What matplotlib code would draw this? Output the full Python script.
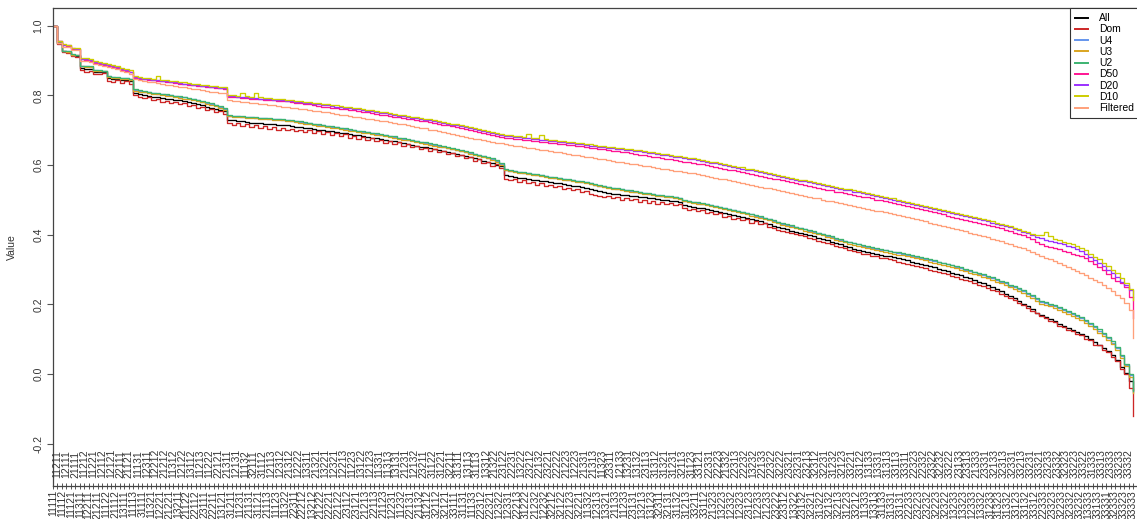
import matplotlib
matplotlib.use("Agg")
import matplotlib.pyplot as plt
import numpy as np

plt.rcParams['font.family'] = ['Liberation Sans', 'DejaVu Sans']

# Profiles ordered by decreasing score
categories = [
    "11111",
    "11211", "11112", "12111", "11121", "21111",
    "11311", "11212", "12211", "11221", "21211", "12112", "11122", "12121", "21112", "22111",
    "13111", "21121", "11113", "11131", "31111",
    "12311", "11321", "12212", "12221", "21212", "21221", "11312", "13211", "12122", "21122",
    "13112", "22112", "11213", "23111", "11222", "22211", "22121", "13121", "21311", "31211",
    "12131", "11231", "11132", "21131", "32111", "31121", "31112", "21113", "12113", "11123",
    "12312", "11322", "21312", "22311", "12222", "22212", "13311", "13212", "21321", "21222",
    "13221", "22221", "12321", "22122", "12213", "23112", "11223", "23121", "13122", "21213",
    "12123", "22113", "11331", "21123", "11313", "12231", "13131", "11232", "21231", "22131",
    "12132", "21132", "23211", "31212", "31122", "32112", "31221", "32121", "32211", "33111",
    "31311", "31131", "13113", "11133", "31113",
    "22312", "13312", "22321", "21322", "12322", "23122", "12331", "22231", "22213", "13222",
    "31222", "23212", "21232", "22132", "12232", "23221", "32212", "22222", "32122", "21223",
    "22123", "12223", "32221", "21331", "11332", "21313", "12313", "11323", "13321", "23311",
    "21133", "12133", "11233", "13231", "23131", "13132", "13213", "23113", "13123", "31312",
    "32311", "31321", "32131", "31231", "31132", "32113", "31213", "31123", "33211", "33121",
    "33112",
    "22331", "21323", "22223", "13223", "21332", "12332", "22313", "12323", "22232", "23123",
    "13232", "12233", "22133", "21233", "22322", "23222", "32222", "23312", "23321", "13322",
    "23231", "23132", "23213", "32321", "32312", "31322", "32231", "32132", "31232", "32213",
    "32123", "31223", "33221", "33212", "33122", "11333", "13133", "13313", "13331", "31133",
    "31313", "31331", "33113", "33131", "33311",
    "22233", "22323", "23223", "22332", "23232", "23322", "32223", "32232", "32322", "33222",
    "13233", "23133", "13323", "23313", "12333", "21333", "13332", "23331", "31233", "32133",
    "31323", "32313", "31332", "32331", "33123", "33213", "33132", "33231", "33312", "33321",
    "22333", "23233", "23323", "23332", "32233", "32323", "32332", "33223", "33232", "33322",
    "13333", "31333", "33133", "33313", "33331",
    "23333", "32333", "33233", "33323", "33332",
    "33333",
]

# Series values in thousandths
all_vals = [
    1000, 950, 926, 925, 916, 914, 878, 877, 876, 868,
    867, 866, 850, 848, 846, 845, 844, 842, 806, 804,
    800, 798, 796, 795, 793, 791, 790, 788, 786, 784,
    782, 778, 775, 772, 768, 765, 762, 758, 754, 730,
    728, 727, 725, 724, 722, 721, 720, 719, 718, 717,
    716, 715, 714, 712, 710, 708, 707, 705, 704, 702,
    700, 699, 697, 695, 693, 691, 689, 687, 685, 683,
    681, 679, 677, 674, 672, 670, 668, 665, 663, 661,
    658, 656, 653, 651, 648, 646, 643, 641, 638, 635,
    632, 629, 626, 622, 619, 616, 613, 609, 605, 600,
    597, 572, 568, 566, 564, 562, 560, 558, 557, 555,
    553, 551, 549, 547, 545, 543, 541, 539, 536, 534,
    531, 528, 525, 522, 520, 518, 516, 514, 513, 511,
    510, 508, 507, 505, 504, 502, 501, 499, 498, 496,
    494, 485, 482, 480, 478, 476, 473, 470, 468, 465,
    462, 459, 456, 453, 450, 447, 444, 441, 438, 434,
    430, 426, 422, 418, 415, 412, 408, 405, 402, 398,
    395, 391, 388, 384, 380, 376, 372, 368, 364, 360,
    357, 354, 351, 348, 345, 343, 340, 338, 335, 332,
    330, 327, 323, 320, 316, 313, 309, 306, 302, 298,
    295, 291, 287, 283, 279, 275, 270, 265, 260, 255,
    250, 244, 238, 231, 224, 217, 210, 202, 194, 186,
    176, 170, 164, 158, 151, 145, 139, 133, 127, 121,
    116, 108, 100, 92, 84, 75, 66, 55, 40, 20,
    3, -20, -45,
]

dom_vals = [
    1000, 948, 924, 922, 912, 910, 872, 868, 870, 862,
    860, 864, 842, 838, 843, 836, 840, 834, 800, 796,
    792, 795, 786, 790, 782, 785, 778, 781, 775, 778,
    770, 773, 765, 768, 758, 762, 752, 755, 746, 722,
    716, 720, 713, 718, 710, 714, 706, 712, 704, 709,
    702, 707, 700, 704, 697, 702, 695, 700, 692, 697,
    689, 694, 686, 691, 683, 688, 679, 684, 676, 681,
    672, 677, 668, 673, 664, 669, 660, 665, 656, 660,
    651, 655, 646, 650, 641, 645, 636, 640, 631, 634,
    625, 628, 619, 622, 612, 616, 606, 609, 598, 602,
    592, 560, 556, 560, 552, 556, 547, 551, 544, 548,
    540, 544, 536, 540, 531, 535, 527, 531, 522, 526,
    518, 514, 510, 507, 511, 504, 508, 501, 505, 499,
    502, 495, 499, 492, 496, 489, 493, 487, 490, 484,
    487, 476, 472, 474, 468, 470, 463, 466, 458, 461,
    452, 455, 446, 449, 441, 444, 435, 438, 430, 433,
    423, 420, 414, 411, 408, 404, 401, 398, 395, 390,
    387, 383, 380, 376, 372, 369, 364, 361, 357, 353,
    350, 346, 344, 340, 338, 334, 332, 329, 326, 323,
    320, 317, 314, 311, 307, 304, 300, 297, 293, 289,
    286, 282, 278, 274, 270, 266, 261, 257, 252, 247,
    242, 237, 231, 225, 218, 212, 205, 198, 190, 182,
    174, 166, 162, 152, 148, 138, 136, 126, 124, 114,
    112, 100, 98, 84, 82, 68, 64, 48, 38, 15,
    0, -40, -120,
]

u4_vals = [
    1000, 951, 927, 926, 917, 916, 884, 883, 882, 872,
    871, 870, 855, 853, 851, 850, 849, 847, 815, 813,
    811, 809, 807, 805, 803, 801, 800, 798, 796, 794,
    791, 789, 786, 782, 779, 775, 772, 768, 761, 742,
    741, 740, 739, 738, 737, 736, 735, 734, 733, 732,
    731, 730, 729, 727, 726, 724, 722, 720, 718, 716,
    714, 712, 710, 708, 706, 704, 702, 700, 698, 696,
    694, 692, 689, 687, 685, 682, 680, 678, 676, 673,
    671, 668, 666, 663, 661, 658, 656, 653, 650, 647,
    644, 641, 638, 635, 632, 629, 625, 621, 617, 612,
    603, 587, 584, 582, 580, 578, 576, 574, 572, 570,
    568, 566, 564, 562, 560, 558, 556, 554, 552, 550,
    547, 544, 541, 539, 536, 534, 532, 530, 528, 526,
    524, 522, 520, 518, 516, 514, 512, 511, 509, 507,
    505, 498, 496, 494, 492, 489, 487, 484, 482, 479,
    476, 473, 470, 467, 464, 461, 458, 455, 451, 448,
    444, 440, 436, 432, 429, 425, 422, 419, 415, 412,
    408, 405, 401, 397, 393, 389, 385, 382, 378, 375,
    372, 369, 366, 363, 360, 357, 355, 352, 350, 348,
    345, 342, 339, 336, 333, 330, 327, 324, 321, 318,
    315, 312, 308, 304, 300, 296, 292, 288, 284, 280,
    275, 270, 265, 260, 254, 249, 243, 237, 230, 223,
    215, 208, 203, 199, 194, 189, 184, 179, 173, 167,
    160, 152, 143, 134, 124, 114, 103, 90, 74, 52,
    26, -4, -52,
]

u3_vals = [
    1000, 950, 926, 925, 916, 915, 883, 882, 881, 871,
    870, 869, 853, 851, 849, 848, 847, 845, 813, 811,
    809, 807, 805, 803, 801, 799, 797, 795, 793, 791,
    789, 786, 783, 780, 776, 773, 769, 765, 759, 740,
    739, 738, 737, 736, 735, 734, 733, 732, 731, 730,
    729, 728, 727, 725, 723, 721, 719, 717, 715, 713,
    711, 709, 707, 705, 703, 701, 699, 697, 695, 693,
    691, 689, 687, 685, 682, 680, 678, 675, 673, 671,
    668, 666, 663, 661, 658, 656, 653, 651, 648, 645,
    642, 639, 636, 633, 629, 626, 623, 619, 615, 610,
    601, 585, 582, 580, 578, 576, 574, 572, 570, 568,
    566, 564, 562, 560, 558, 556, 554, 552, 550, 548,
    545, 542, 539, 536, 534, 532, 530, 528, 526, 524,
    522, 520, 518, 516, 514, 512, 510, 509, 507, 505,
    503, 496, 493, 491, 489, 487, 484, 482, 479, 476,
    473, 470, 467, 464, 461, 458, 455, 452, 448, 445,
    441, 437, 433, 429, 426, 423, 419, 416, 412, 409,
    405, 402, 398, 394, 390, 386, 382, 378, 374, 371,
    368, 365, 362, 359, 356, 353, 351, 348, 346, 343,
    341, 338, 335, 332, 329, 326, 323, 320, 317, 314,
    311, 307, 303, 299, 295, 291, 287, 283, 279, 275,
    270, 265, 260, 255, 249, 244, 238, 232, 225, 218,
    210, 202, 198, 194, 189, 184, 179, 173, 167, 161,
    155, 147, 138, 129, 119, 109, 98, 85, 69, 47,
    22, -8, -55,
]

u2_vals = [
    1000, 952, 928, 927, 918, 917, 885, 884, 883, 873,
    872, 871, 856, 854, 852, 851, 850, 848, 817, 815,
    812, 810, 808, 806, 805, 803, 801, 799, 797, 795,
    793, 790, 787, 784, 780, 777, 773, 769, 763, 744,
    742, 741, 740, 739, 738, 737, 736, 735, 734, 733,
    732, 731, 730, 729, 727, 725, 723, 721, 719, 717,
    715, 713, 711, 709, 707, 705, 703, 701, 699, 697,
    695, 693, 691, 688, 686, 684, 682, 679, 677, 675,
    672, 670, 667, 665, 662, 660, 657, 655, 652, 649,
    646, 643, 640, 637, 633, 630, 627, 623, 619, 614,
    605, 588, 585, 583, 581, 579, 577, 575, 573, 571,
    569, 567, 565, 563, 561, 559, 557, 555, 553, 551,
    549, 546, 543, 540, 537, 535, 533, 531, 529, 527,
    525, 523, 521, 519, 517, 515, 514, 512, 510, 508,
    506, 500, 497, 495, 493, 491, 488, 486, 483, 480,
    477, 474, 471, 468, 465, 462, 459, 456, 453, 449,
    445, 441, 437, 433, 430, 427, 423, 420, 417, 413,
    410, 406, 403, 399, 395, 391, 387, 383, 379, 376,
    373, 370, 367, 364, 361, 359, 356, 354, 351, 349,
    347, 344, 341, 338, 335, 332, 329, 326, 323, 320,
    317, 314, 310, 306, 302, 298, 294, 290, 286, 282,
    278, 273, 268, 263, 257, 252, 246, 240, 233, 226,
    218, 210, 206, 202, 197, 192, 187, 182, 176, 170,
    164, 156, 147, 138, 128, 118, 107, 94, 78, 55,
    30, 0, -50,
]

d50_vals = [
    1000, 956, 944, 943, 933, 932, 903, 901, 899, 893,
    890, 887, 884, 881, 878, 874, 870, 866, 850, 848,
    846, 845, 843, 842, 840, 839, 837, 836, 834, 832,
    831, 829, 828, 826, 825, 823, 822, 820, 818, 796,
    795, 794, 793, 792, 791, 790, 789, 788, 787, 786,
    785, 784, 783, 781, 779, 777, 776, 774, 772, 770,
    768, 767, 765, 764, 762, 761, 759, 757, 755, 753,
    751, 749, 747, 745, 743, 741, 739, 737, 735, 733,
    731, 729, 727, 725, 723, 721, 719, 716, 714, 711,
    709, 706, 704, 701, 698, 695, 692, 689, 686, 683,
    681, 679, 678, 676, 675, 673, 672, 670, 669, 667,
    666, 664, 663, 661, 660, 658, 657, 655, 654, 652,
    650, 648, 647, 645, 643, 641, 640, 638, 636, 634,
    632, 630, 628, 626, 624, 622, 620, 618, 616, 614,
    612, 610, 608, 606, 604, 602, 600, 597, 595, 592,
    590, 587, 585, 582, 580, 577, 575, 572, 569, 567,
    564, 561, 559, 556, 553, 551, 548, 545, 543, 540,
    537, 535, 532, 529, 527, 524, 522, 519, 517, 514,
    512, 509, 507, 504, 501, 499, 496, 493, 491, 488,
    485, 482, 479, 476, 473, 470, 467, 464, 461, 458,
    455, 452, 449, 446, 443, 440, 437, 434, 431, 428,
    425, 422, 418, 414, 410, 406, 402, 398, 393, 388,
    378, 372, 368, 365, 361, 358, 354, 350, 346, 343,
    338, 332, 324, 316, 308, 298, 286, 277, 268, 262,
    250, 222, 160,
]

d20_vals = [
    1000, 955, 945, 944, 935, 934, 905, 903, 901, 895,
    892, 889, 886, 883, 880, 876, 872, 868, 852, 850,
    848, 847, 845, 844, 842, 841, 839, 838, 836, 834,
    833, 831, 830, 828, 827, 825, 824, 822, 820, 798,
    797, 796, 795, 794, 793, 792, 791, 790, 789, 788,
    787, 786, 785, 784, 782, 780, 779, 777, 776, 774,
    772, 771, 769, 768, 766, 765, 763, 762, 760, 758,
    756, 754, 752, 750, 748, 746, 744, 742, 740, 738,
    736, 734, 732, 730, 728, 726, 724, 721, 719, 716,
    714, 711, 709, 706, 703, 700, 697, 694, 691, 688,
    686, 684, 683, 681, 680, 678, 677, 675, 674, 672,
    671, 669, 668, 666, 665, 663, 662, 660, 659, 657,
    656, 654, 653, 651, 650, 648, 647, 645, 644, 642,
    640, 639, 637, 635, 634, 632, 630, 628, 626, 624,
    622, 620, 618, 616, 614, 612, 610, 607, 605, 602,
    600, 597, 595, 592, 590, 587, 585, 582, 579, 577,
    574, 571, 569, 566, 563, 561, 558, 555, 553, 550,
    547, 545, 542, 539, 537, 534, 532, 529, 527, 524,
    522, 519, 517, 514, 511, 509, 506, 503, 501, 498,
    495, 492, 489, 486, 483, 480, 477, 474, 471, 468,
    465, 462, 459, 456, 453, 450, 447, 444, 441, 438,
    435, 432, 428, 425, 421, 417, 413, 409, 405, 400,
    394, 390, 386, 383, 380, 376, 373, 369, 365, 360,
    352, 345, 335, 328, 320, 310, 300, 290, 280, 265,
    255, 240, 222,
]

d10_vals = [
    1000, 957, 947, 946, 937, 936, 908, 906, 904, 898,
    895, 892, 889, 886, 883, 879, 876, 872, 855, 853,
    851, 850, 848, 856, 845, 844, 842, 841, 839, 837,
    836, 834, 833, 831, 830, 828, 827, 825, 823, 801,
    800, 799, 808, 797, 796, 806, 794, 793, 792, 791,
    790, 789, 788, 787, 785, 783, 782, 780, 779, 777,
    775, 774, 772, 771, 769, 768, 766, 765, 763, 761,
    759, 757, 755, 753, 751, 749, 747, 745, 743, 741,
    739, 737, 735, 733, 731, 729, 727, 724, 722, 719,
    717, 714, 712, 709, 706, 703, 700, 697, 694, 691,
    689, 687, 686, 684, 683, 681, 690, 678, 677, 686,
    674, 672, 671, 669, 668, 666, 665, 663, 662, 660,
    659, 657, 656, 654, 653, 651, 650, 648, 647, 645,
    643, 642, 640, 638, 637, 635, 633, 631, 629, 627,
    625, 623, 621, 619, 617, 615, 613, 610, 608, 605,
    603, 600, 598, 595, 593, 590, 588, 585, 582, 580,
    577, 574, 572, 569, 566, 564, 561, 558, 556, 553,
    550, 548, 545, 542, 540, 537, 535, 532, 530, 527,
    525, 522, 520, 517, 514, 512, 509, 506, 504, 501,
    498, 495, 492, 489, 486, 483, 480, 477, 474, 471,
    468, 465, 462, 459, 456, 453, 450, 447, 444, 441,
    438, 435, 431, 428, 424, 420, 416, 412, 408, 403,
    399, 398, 408, 396, 388, 384, 380, 376, 372, 367,
    362, 355, 345, 337, 330, 320, 310, 299, 289, 275,
    262, 245, 212,
]

filtered_vals = [
    1000, 950, 940, 939, 930, 929, 900, 898, 896, 890,
    887, 884, 881, 878, 875, 871, 867, 862, 846, 843,
    841, 839, 837, 835, 833, 831, 829, 827, 825, 823,
    821, 819, 817, 815, 813, 811, 809, 807, 806, 786,
    784, 783, 781, 780, 778, 777, 775, 774, 772, 771,
    769, 768, 766, 765, 763, 761, 760, 758, 756, 755,
    753, 751, 749, 747, 745, 743, 741, 739, 737, 735,
    733, 731, 729, 727, 725, 723, 721, 719, 717, 715,
    712, 710, 707, 705, 702, 700, 697, 695, 692, 689,
    687, 684, 681, 679, 676, 674, 671, 669, 666, 664,
    662, 660, 658, 656, 654, 652, 650, 648, 646, 644,
    642, 640, 638, 636, 634, 632, 630, 628, 626, 624,
    622, 620, 618, 616, 614, 612, 610, 608, 606, 604,
    602, 600, 598, 596, 594, 592, 590, 588, 586, 584,
    582, 580, 578, 576, 574, 571, 569, 566, 564, 561,
    559, 556, 554, 551, 549, 546, 543, 541, 538, 535,
    533, 530, 527, 525, 522, 519, 517, 514, 512, 509,
    506, 504, 501, 498, 496, 493, 491, 488, 485, 483,
    480, 477, 475, 472, 469, 467, 464, 461, 459, 456,
    453, 450, 447, 444, 441, 438, 435, 432, 429, 426,
    422, 419, 416, 413, 410, 406, 403, 399, 396, 392,
    389, 385, 381, 377, 373, 369, 365, 361, 356, 351,
    346, 340, 334, 329, 324, 318, 313, 307, 302, 296,
    290, 283, 277, 270, 263, 255, 247, 238, 228, 217,
    203, 185, 103,
]

series_names = ["All", "Dom", "U4", "U3", "U2", "D50", "D20", "D10", "Filtered"]
series_vals = [all_vals, dom_vals, u4_vals, u3_vals, u2_vals,
               d50_vals, d20_vals, d10_vals, filtered_vals]
series_colors = ["#000000", "#CD2626", "#6495ED", "#DAA520", "#3CB371",
                 "#FF1493", "#9B30FF", "#CDCD00", "#FFA07A"]

W, H = 1137, 519
fig = plt.figure(figsize=(W / 100, H / 100), dpi=100)
fig.patch.set_facecolor("white")

# plot region in pixels: left 53, right 1150 (runs past the canvas), top 8, bottom 486
left_px, right_px, top_px, bottom_px = 53, 1150, 8, 486
ax = fig.add_axes([left_px / W, 1 - bottom_px / H,
                   (right_px - left_px) / W, (bottom_px - top_px) / H])

x = np.arange(len(categories))
for name, vals, col in zip(series_names, series_vals, series_colors):
    ax.step(x, np.array(vals) / 1000.0, where="post", color=col, lw=0.95,
            label=name)

step_px = (1133 - left_px) / (len(categories) - 1)
ax.set_xlim(0, (right_px - left_px) / step_px)
ax.set_ylim(-0.3214, 1.0508)

for s in ["top", "left", "bottom", "right"]:
    ax.spines[s].set_color("#444444")
    ax.spines[s].set_linewidth(0.9)

# y axis
yt = [-0.2, 0.0, 0.2, 0.4, 0.6, 0.8, 1.0]
ax.set_yticks(yt)
ax.set_yticklabels([f"{v:.1f}" for v in yt], rotation=90, va="center",
                   fontsize=7.5, color="#333333")
ax.tick_params(axis="y", direction="out", length=4.5, width=0.8,
               color="#555555", pad=2.5)
fig.text(12 / W, 1 - 247 / H, "Value", rotation=90, ha="center",
         va="center", fontsize=7.5, color="#333333")

# x axis: ticks at every profile, labels alternating in two rows
ax.set_xticks(x)
ax.set_xticklabels([])
ax.tick_params(axis="x", direction="inout", length=5, width=0.7,
               color="#555555")
plot_h = bottom_px - top_px
trans = ax.get_xaxis_transform()
for i, lab in enumerate(categories):
    if i % 2 == 0:
        ax.text(i, -(490 - bottom_px) / plot_h, lab, rotation=90,
                ha="center", va="top", fontsize=7.5, color="#333333",
                transform=trans, clip_on=False)
    else:
        ax.text(i, (bottom_px - 478) / plot_h, lab, rotation=90,
                ha="center", va="bottom", fontsize=7.5, color="#333333",
                transform=trans, clip_on=False)

# legend anchored so its right edge sits just inside the canvas
leg_right = (1139 - left_px) / (right_px - left_px)
leg = ax.legend(loc="upper right", bbox_to_anchor=(leg_right, 1),
                borderaxespad=0, fontsize=7.5, frameon=True, fancybox=False,
                edgecolor="#333333", framealpha=1, handlelength=1.3,
                handletextpad=1.0, labelspacing=0.12, borderpad=0.5)
leg.get_frame().set_linewidth(0.8)
for ln in leg.get_lines():
    ln.set_linewidth(1.4)

fig.savefig("out.png", dpi=100)
